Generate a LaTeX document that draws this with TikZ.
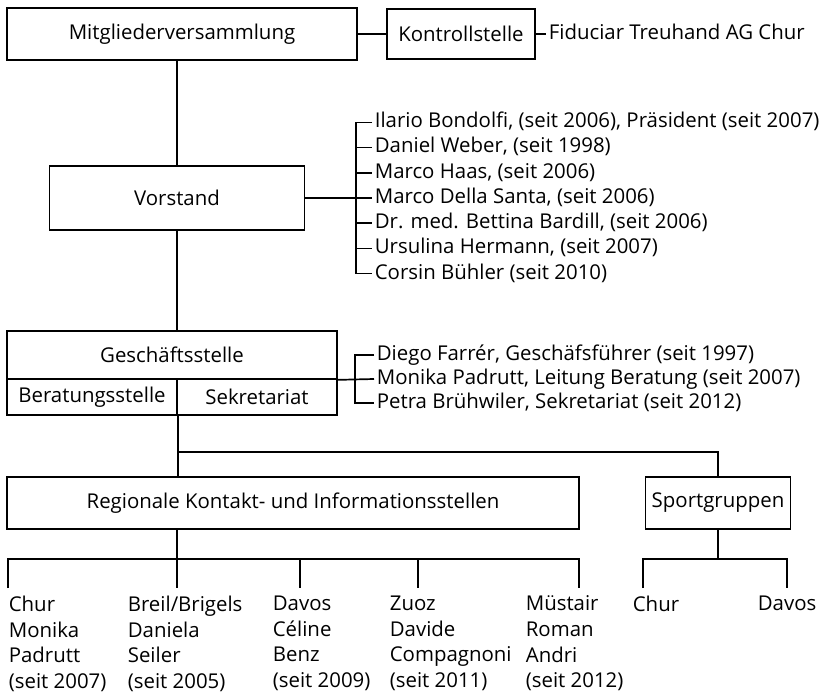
\documentclass[tikz,border=0pt]{standalone}
\usepackage{fontspec}
\setmainfont{Open Sans}
\begin{document}
\begin{tikzpicture}[x=.5pt,y=-.5pt,line width=.85pt,
  font=\fontsize{10.2}{12.85}\selectfont,
  box/.style={draw,inner sep=0pt},
  who/.style={anchor=west,inner xsep=1pt,inner ysep=0pt,text height=7.8pt,text depth=2.4pt},
  place/.style={anchor=north west,inner sep=0pt,align=left}]
\useasboundingbox (0,0) rectangle (828,695);
% Organe
\node[box,minimum width=175pt,minimum height=26pt] (mv) at (182,34) {Mitgliederversammlung};
\node[box,minimum width=74pt,minimum height=25pt] (ks) at (461,34) {Kontrollstelle};
\node[who] (fid) at (546,34) {Fiduciar Treuhand AG Chur};
\draw (mv) -- (ks);
\draw (ks.east) -- (fid.west);
% Vorstand
\node[box,minimum width=127.5pt,minimum height=32pt] (vs) at (177,198) {Vorstand};
\draw (mv.south -| vs.north) -- (vs.north);
\coordinate (vb) at (356,198);
\foreach \txt [count=\i] in {{Ilario Bondolfi, (seit 2006), Präsident (seit 2007)},
    {Daniel Weber, (seit 1998)}, {Marco Haas, (seit 2006)},
    {Marco Della Santa, (seit 2006)}, {Dr. med. Bettina Bardill, (seit 2006)},
    {Ursulina Hermann, (seit 2007)}, {Corsin Bühler (seit 2010)}}
  \node[who] (v\i) at (372,{198+(\i-4)*25.2}) {\txt};
\draw (v1.west) -- (v1.west -| vb) -- (v7.west -| vb) -- (v7.west);
\foreach \i in {2,...,6} \draw (v\i.west -| vb) -- (v\i.west);
\draw (vs) -- (vb);
% Geschaeftsstelle
\node[box,minimum width=165pt,minimum height=24pt] (gs) at (172,355) {Geschäftsstelle};
\node[box,minimum width=85pt,minimum height=18pt] (bs) at (92,397) {Beratungsstelle};
\node[box,minimum width=80pt,minimum height=18pt] (sk) at (257,397) {Sekretariat};
\draw (vs.south) -- (vs.south |- gs.north);
\coordinate (gb) at (355,379);
\foreach \txt [count=\i] in {{Diego Farrér, Geschäfsführer (seit 1997)},
    {Monika Padrutt, Leitung Beratung (seit 2007)},
    {Petra Brühwiler, Sekretariat (seit 2012)}}
  \node[who] (g\i) at (374,{379+(\i-2)*24}) {\txt};
\draw (g1.west) -- (g1.west -| gb) -- (g3.west -| gb) -- (g3.west);
\draw (gs.south east) -- (g2.west);
% Regionalstellen und Sportgruppen
\node[box,minimum width=286pt,minimum height=26pt] (rk) at (293,503) {Regionale Kontakt- und Informationsstellen};
\node[box,minimum width=72.5pt,minimum height=26pt] (sg) at (718,503) {Sportgruppen};
\coordinate (split) at (177,452);
\draw (bs.south east) -- (bs.south east |- rk.north);
\draw (split) -| (sg.north);
\node[place] (r1) at (8,595) {Chur\\Monika\\Padrutt\\(seit 2007)};
\node[place] (r2) at (127,595) {Breil/Brigels\\Daniela\\Seiler\\(seit 2005)};
\node[place] (r3) at (272,595) {Davos\\Céline\\Benz\\(seit 2009)};
\node[place] (r4) at (389,595) {Zuoz\\Davide\\Compagnoni\\(seit 2011)};
\node[place] (r5) at (525,595) {Müstair\\Roman\\Andri\\(seit 2012)};
\node[place] (s1) at (632,595) {Chur};
\node[place] (s2) at (757,595) {Davos};
\coordinate (rbar) at (177,559);
\coordinate (sbar) at (718,559);
\draw (rk.south -| rbar) -- (rbar);
\draw (8,588) |- (579,559) -- (579,588);
\foreach \x in {177,300,418} \draw (\x,559) -- (\x,588);
\draw (sg.south) -- (sbar);
\draw (643,588) |- (787,559) -- (787,588);
\end{tikzpicture}
\end{document}
